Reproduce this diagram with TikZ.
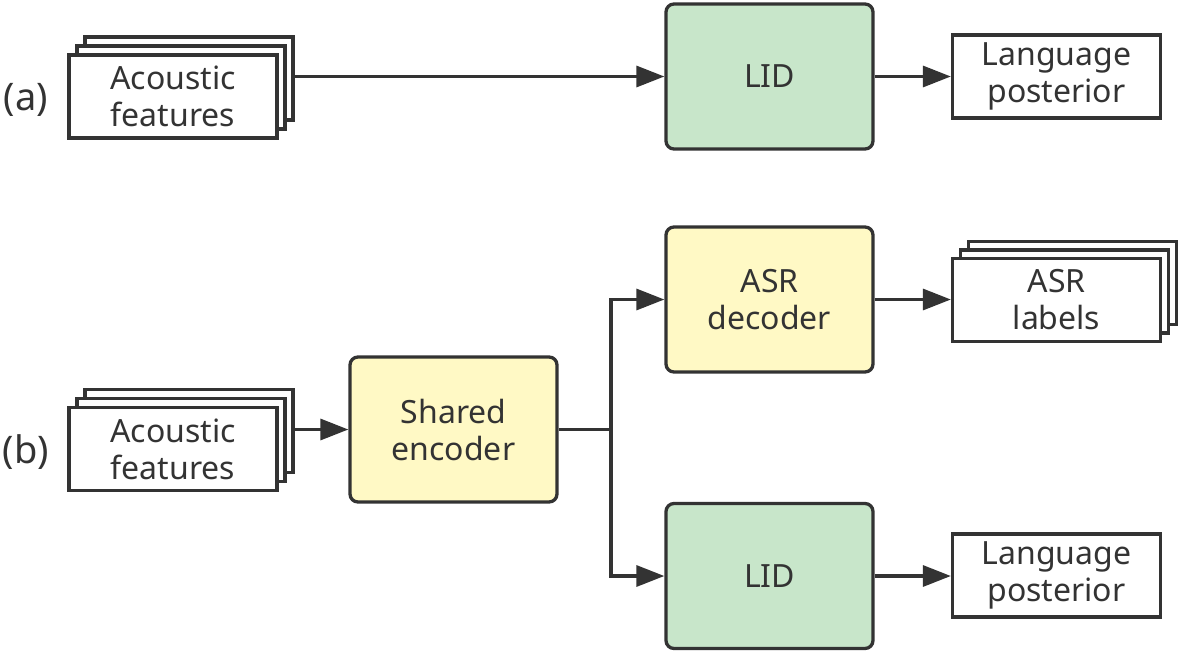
\documentclass[tikz,border=0pt]{standalone}
\usepackage{fontspec}
\setmainfont{Noto Sans}
\usetikzlibrary{arrows.meta}
\definecolor{edge}{HTML}{333333}
\definecolor{lidgreen}{HTML}{C8E6CA}
\definecolor{asryellow}{HTML}{FFF9C5}
\tikzset{
  base/.style={draw=edge, line width=3.3pt, inner sep=0pt, align=center, text=edge,
    font=\fontsize{32}{37}\selectfont},
  plainbox/.style={base, fill=white, minimum width=208pt, minimum height=83pt},
  greenbox/.style={base, fill=lidgreen, rounded corners=8pt, minimum width=207pt, minimum height=145pt},
  yellowbox/.style={base, fill=asryellow, rounded corners=8pt, minimum width=207pt, minimum height=145pt},
  conn/.style={draw=edge, line width=3.3pt, -{Triangle[length=28pt,width=21pt]}},
  link/.style={draw=edge, line width=3.3pt},
  tag/.style={text=edge, font=\fontsize{38}{44}\selectfont}
}
\begin{document}
\begin{tikzpicture}[x=1pt,y=-1pt]
\useasboundingbox (0,0) rectangle (1182,653);
% (a)
\node[tag] (ta) at (26,100) {(a)};
\node[plainbox] (afa3) at (189,78.5) {};
\node[plainbox] (afa2) at (181,87.5) {};
\node[plainbox] (afa) at (173,96.5) {Acoustic\\features};
\node[greenbox] (lida) at (769.5,76.5) {LID};
\node[plainbox] (lpa) at (1056.5,76.5) {Language\\posterior};
\draw[conn] (afa3.east |- lida.west) -- (lida.west);
\draw[conn] (lida.east) -- (lpa.west);
% (b)
\node[tag] (tb) at (26,452) {(b)};
\node[plainbox] (afb3) at (189,431) {};
\node[plainbox] (afb2) at (181,440) {};
\node[plainbox] (afb) at (173,449) {Acoustic\\features};
\node[yellowbox] (enc) at (453.5,429.5) {Shared\\encoder};
\node[yellowbox] (dec) at (769.5,299.5) {ASR\\decoder};
\node[greenbox] (lidb) at (769.5,576) {LID};
\node[plainbox] (asr3) at (1072.5,283) {};
\node[plainbox] (asr2) at (1064.5,291.5) {};
\node[plainbox] (asr) at (1056.5,300) {ASR\\labels};
\node[plainbox] (lpb) at (1056.5,575.5) {Language\\posterior};
\coordinate (split) at (611,429.5);
\draw[conn] (afb3.east |- enc.west) -- (enc.west);
\draw[link] (enc.east) -- (split);
\draw[conn] (split) |- (dec.west);
\draw[conn] (split) |- (lidb.west);
\draw[conn] (dec.east) -- (asr.west |- dec.east);
\draw[conn] (lidb.east) -- (lpb.west |- lidb.east);
\end{tikzpicture}
\end{document}
